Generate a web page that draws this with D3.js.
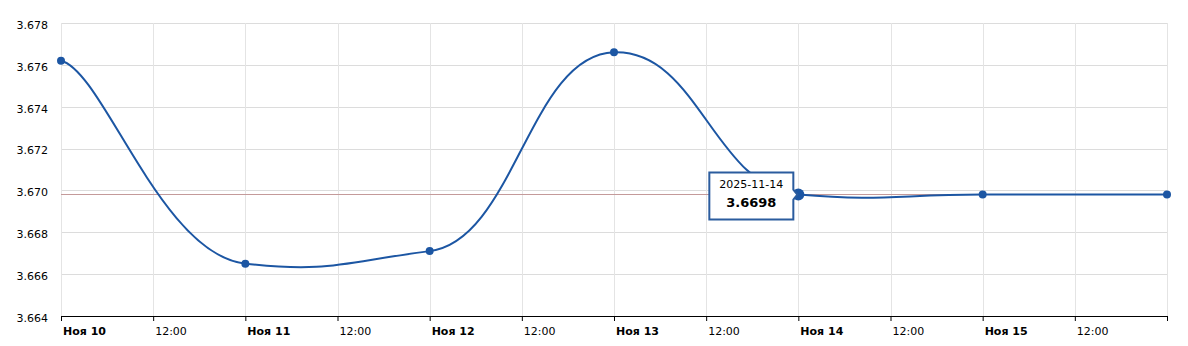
<!DOCTYPE html>
<html>
<head>
<meta charset="utf-8">
<script src="https://cdn.jsdelivr.net/npm/d3@7"></script>
<style>
  html, body { margin: 0; padding: 0; background: #fff; }
  svg text { font-family: 'DejaVu Sans', Verdana, sans-serif; font-size: 11px; fill: #000; }
</style>
</head>
<body>
<div class="svg-container"></div>
<script>
const dates = ['2025-11-10', '2025-11-11', '2025-11-12', '2025-11-13', '2025-11-14', '2025-11-15', '2025-11-16']
const rates = [3.6762, 3.6665, 3.6671, 3.6766, 3.6698, 3.6698, 3.6698]
const yTicks = [3.664, 3.666, 3.668, 3.670, 3.672, 3.674, 3.676, 3.678]
const monthLabel = 'Ноя'
const guideValue = 3.66985
const activeIndex = 4

const width = 1188
const height = 346
const margin = { top: 23, right: 21, bottom: 30, left: 61 }

const parse = d3.utcParse('%Y-%m-%d')
const data = dates.map((d, i) => ({ date: parse(d), label: d, value: rates[i] }))

const svg = d3.select('.svg-container')
  .append('svg')
  .attr('width', width)
  .attr('height', height)

const x = d3.scaleUtc()
  .domain(d3.extent(data, d => d.date))
  .range([margin.left, width - margin.right])

const y = d3.scaleLinear()
  .domain([yTicks[0], yTicks[yTicks.length - 1]])
  .range([height - margin.bottom, margin.top])

const halfDays = d3.utcHour.every(12).range(x.domain()[0], d3.utcHour.offset(x.domain()[1], 1))

// grid
svg.append('g')
  .selectAll('line')
  .data(yTicks)
  .join('line')
    .attr('x1', x.range()[0])
    .attr('x2', x.range()[1])
    .attr('y1', d => Math.round(y(d)) + 0.5)
    .attr('y2', d => Math.round(y(d)) + 0.5)
    .attr('stroke', '#dcdcdc')

svg.append('g')
  .selectAll('line')
  .data(halfDays)
  .join('line')
    .attr('x1', d => Math.round(x(d)) + 0.5)
    .attr('x2', d => Math.round(x(d)) + 0.5)
    .attr('y1', y.range()[1])
    .attr('y2', y.range()[0])
    .attr('stroke', '#e4e4e4')

// y labels
svg.append('g')
  .selectAll('text')
  .data(yTicks)
  .join('text')
    .attr('x', 48)
    .attr('y', d => y(d) + 2)
    .attr('dy', '0.35em')
    .attr('text-anchor', 'end')
    .text(d3.format('.3f'))

// x axis
const xAxis = d3.axisBottom(x)
  .tickValues(halfDays)
  .tickSize(5)
  .tickFormat('')

const axisG = svg.append('g')
  .attr('transform', `translate(0, ${y.range()[0]})`)
  .call(xAxis)
axisG.select('.domain').attr('d', `M${x.range()[0]},0.5H${x.range()[1]}`).attr('stroke', '#000')
axisG.selectAll('.tick line').attr('stroke', '#000')

svg.append('g')
  .selectAll('text')
  .data(halfDays.slice(0, -1))
  .join('text')
    .attr('x', d => x(d) + 2)
    .attr('y', y.range()[0] + 15)
    .attr('dy', '0.35em')
    .style('font-weight', d => d.getUTCHours() === 0 ? 'bold' : 'normal')
    .text(d => d.getUTCHours() === 0 ? `${monthLabel} ${d.getUTCDate()}` : d3.utcFormat('%H:%M')(d))

// guide line
svg.append('line')
  .attr('x1', x.range()[0])
  .attr('x2', x.range()[1])
  .attr('y1', Math.round(y(guideValue)) + 0.5)
  .attr('y2', Math.round(y(guideValue)) + 0.5)
  .attr('stroke', '#c49a9a')

// smoothing like tensionX / tensionY
function curveTension(tensionX, tensionY) {
  const fx = 1 - tensionX + 0.00001
  const fy = 1 - tensionY + 0.00001
  return context => {
    let pts = []
    return {
      areaStart() {},
      areaEnd() {},
      lineStart() { pts = [] },
      point(px, py) { pts.push([+px, +py]) },
      lineEnd() {
        context.moveTo(pts[0][0], pts[0][1])
        for (let i = 0; i < pts.length - 1; i++) {
          const p1 = pts[i]
          const p2 = pts[i + 1]
          const p0 = i === 0 ? p1 : pts[i - 1]
          const p3 = i === pts.length - 2 ? p2 : pts[i + 2]
          context.bezierCurveTo(
            p1[0] + (p2[0] - p0[0]) * fx, p1[1] + (p2[1] - p0[1]) * fy,
            p2[0] - (p3[0] - p1[0]) * fx, p2[1] - (p3[1] - p1[1]) * fy,
            p2[0], p2[1]
          )
        }
      }
    }
  }
}

const line = d3.line()
  .x(d => x(d.date))
  .y(d => y(d.value))
  .curve(curveTension(0.77, 0.95))

const color = '#1c56a3'

svg.append('path')
  .datum(data)
  .attr('d', line)
  .attr('fill', 'none')
  .attr('stroke', color)
  .attr('stroke-width', 2)

svg.append('g')
  .selectAll('circle')
  .data(data)
  .join('circle')
    .attr('cx', d => x(d.date))
    .attr('cy', d => y(d.value))
    .attr('r', (d, i) => i === activeIndex ? 6 : 4)
    .attr('fill', color)

// tooltip
const active = data[activeIndex]
const px = x(active.date)
const py = y(active.value)
const boxW = 84
const boxH = 47
const boxRight = px - 5
const boxLeft = boxRight - boxW
const boxTop = py - 22
const boxBottom = boxTop + boxH

const tip = svg.append('g')
tip.append('path')
  .attr('d', `M${boxLeft},${boxTop}H${boxRight}V${py - 5}L${px - 1},${py}L${boxRight},${py + 5}V${boxBottom}H${boxLeft}Z`)
  .attr('fill', '#fff')
  .attr('stroke', '#2b5c9e')
  .attr('stroke-width', 2)
tip.append('text')
  .attr('x', boxLeft + boxW / 2)
  .attr('y', boxTop + 12)
  .attr('dy', '0.35em')
  .attr('text-anchor', 'middle')
  .style('font-size', '11px')
  .text(active.label)
tip.append('text')
  .attr('x', boxLeft + boxW / 2)
  .attr('y', boxTop + 30)
  .attr('dy', '0.35em')
  .attr('text-anchor', 'middle')
  .style('font-size', '13px')
  .style('font-weight', 'bold')
  .text(d3.format('.4f')(active.value))
</script>
</body>
</html>
